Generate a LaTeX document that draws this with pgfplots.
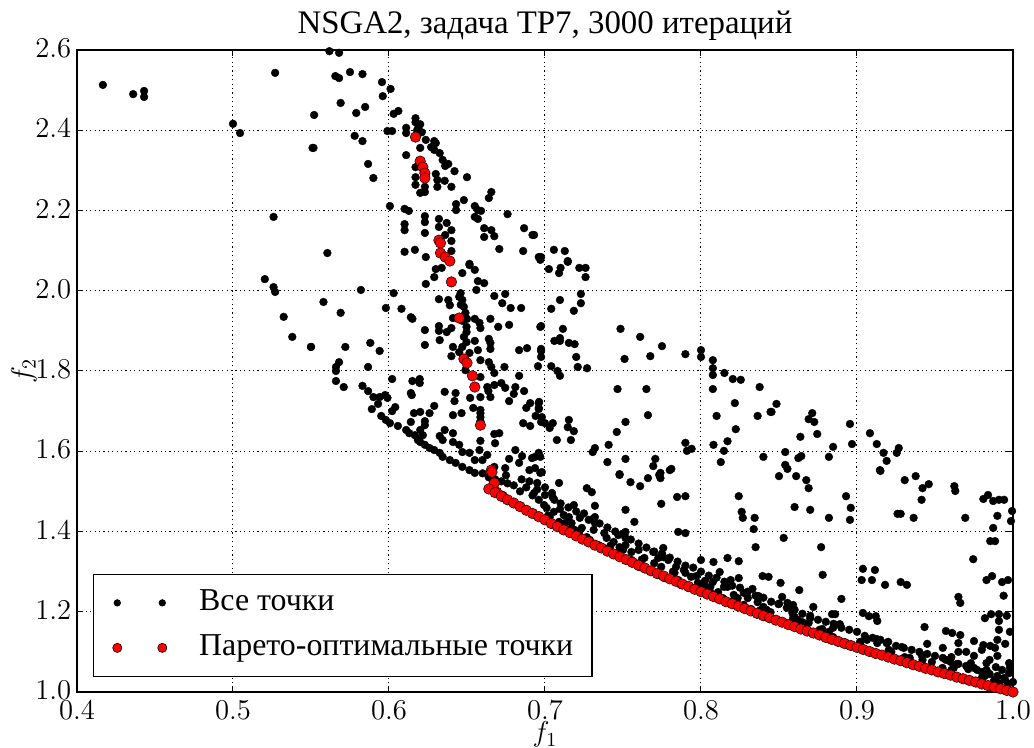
\documentclass[border=0pt]{standalone}
\usepackage{pgfplots}
\pgfplotsset{compat=1.18}
\usepackage{fontspec}
\newfontfamily\cyr{Liberation Serif}
\begin{document}
\begin{tikzpicture}
\path[use as bounding box] (-38.5bp,-28bp) rectangle (478.5bp,346bp);
\begin{axis}[
 scale only axis, width=468bp, height=321bp,
 xmin=0.4, xmax=1.0, ymin=1.0, ymax=2.6,
 xtick={0.4,0.5,0.6,0.7,0.8,0.9,1.0},
 ytick={1.0,1.2,1.4,1.6,1.8,2.0,2.2,2.4,2.6},
 tick pos=both, tick align=inside, major tick length=3bp,
 grid=major, grid style={black, line width=0.5bp, dash pattern=on 0.6bp off 1.6bp},
 axis line style={line width=0.6bp},
 tick style={black, line width=0.5bp},
 tick label style={font=\fontsize{14}{16}\selectfont},
 xticklabel style={inner sep=0pt, yshift=-4.5bp, /pgf/number format/.cd, fixed, fixed zerofill, precision=1},
 yticklabel style={inner sep=0pt, xshift=-2.7bp, yshift=0.8bp, /pgf/number format/.cd, fixed, fixed zerofill, precision=1},
 title={NSGA2, задача TP7, 3000 итераций},
 title style={font=\cyr\fontsize{16.5}{19}\selectfont, at={(0.5,1)}, anchor=base, yshift=2.5bp},
 xlabel={$f_1$}, ylabel={$f_2$},
 label style={font=\fontsize{14}{16}\selectfont},
 xlabel style={at={(axis description cs:0.5,-0.046)}, anchor=north, inner sep=0pt},
 ylabel style={at={(axis description cs:-0.0566,0.5)}, anchor=center},
 legend style={at={(0.0171,0.0234)}, anchor=south west, draw=black, line width=0.6bp, fill=white,
   inner xsep=9.4bp, inner ysep=7bp, font=\cyr\fontsize{16}{19}\selectfont,
   cells={anchor=west}, nodes={inner sep=0pt, text height=11bp, text depth=3.5bp},
   row sep=8bp, /tikz/every odd column/.append style={column sep=16bp}},
]
\addplot[only marks, mark=*, mark size=1.95bp, mark options={draw=black, fill=black, line width=0.2bp},
 legend image code/.code={\fill[black] (0bp,0bp) circle[radius=1.5bp]; \fill[black] (22.5bp,0bp) circle[radius=1.5bp];}]
 table {
x y
0.4166 2.513
0.436 2.490
0.443 2.498
0.443 2.483
0.500 2.416
0.5045 2.393
0.527 2.543
0.552 2.438
0.551 2.356
0.526 2.184
0.5204 2.029
0.526 2.009
0.527 1.997
0.5325 1.935
0.538 1.885
0.550 1.860
0.5618 2.597
0.568 2.593
0.5656 2.535
0.568 2.530
0.575 2.545
0.583 2.540
0.5955 2.520
0.601 2.503
0.596 2.485
0.569 2.468
0.5847 2.458
0.579 2.443
0.603 2.441
0.606 2.448
0.617 2.430
0.617 2.420
0.619 2.410
0.618 2.400
0.621 2.395
0.620 2.415
0.599 2.398
0.602 2.398
0.611 2.406
0.611 2.393
0.578 2.386
0.583 2.373
0.5516 2.356
0.6236 2.376
0.629 2.373
0.630 2.368
0.627 2.358
0.629 2.351
0.620 2.356
0.6325 2.343
0.611 2.338
0.5866 2.316
0.590 2.281
0.617 2.308
0.617 2.283
0.617 2.264
0.620 2.244
0.623 2.246
0.623 2.259
0.6344 2.326
0.636 2.311
0.638 2.316
0.642 2.298
0.630 2.291
0.631 2.276
0.631 2.259
0.6357 2.274
0.640 2.259
0.650 2.283
0.6656 2.246
0.664 2.231
0.648 2.226
0.643 2.216
0.643 2.201
0.655 2.211
0.657 2.201
0.659 2.199
0.655 2.184
0.657 2.179
0.676 2.191
0.6006 2.211
0.610 2.204
0.6127 2.199
0.610 2.166
0.610 2.151
0.623 2.186
0.623 2.171
0.623 2.144
0.632 2.179
0.632 2.159
0.637 2.169
0.640 2.151
0.636 2.139
0.640 2.124
0.640 2.099
0.661 2.156
0.6656 2.151
0.661 2.134
0.6675 2.136
0.6866 2.156
0.692 2.139
0.6707 2.104
0.686 2.099
0.696 2.084
0.610 2.097
0.6166 2.102
0.6236 2.084
0.5605 2.094
0.6516 2.067
0.693 2.139
0.6975 2.084
0.7057 2.102
0.7127 2.099
0.7146 2.074
0.630 2.054
0.6338 2.057
0.6236 2.017
0.629 2.034
0.647 2.044
0.6516 2.064
0.655 2.052
0.657 2.024
0.661 2.019
0.656 2.002
0.6459 1.994
0.647 1.977
0.648 1.960
0.649 1.945
0.6497 1.910
0.6497 1.897
0.6497 1.872
0.647 1.860
0.645 1.847
0.6516 1.845
0.649 1.802
0.645 1.985
0.646 1.965
0.647 1.925
0.648 1.885
0.650 1.930
0.632 1.979
0.638 1.977
0.639 1.964
0.641 1.932
0.640 1.907
0.632 1.912
0.632 1.900
0.637 1.897
0.6325 1.877
0.623 1.902
0.623 1.865
0.641 1.860
0.640 1.837
0.655 1.930
0.658 1.920
0.6586 1.907
0.665 1.930
0.670 1.910
0.677 1.915
0.6675 1.987
0.6745 1.992
0.6726 1.969
0.678 1.957
0.6847 1.957
0.697 1.910
0.655 1.875
0.657 1.852
0.664 1.880
0.665 1.870
0.665 1.855
0.6586 1.827
0.664 1.822
0.6656 1.810
0.674 1.810
0.6586 1.785
0.6675 1.795
0.6834 1.852
0.6885 1.857
0.6834 1.788
0.663 1.760
0.6675 1.765
0.672 1.770
0.6745 1.758
0.681 1.760
0.680 1.743
0.6866 1.750
0.6586 1.735
0.665 1.735
0.6637 1.750
0.677 1.725
0.652 1.733
0.6427 1.745
0.642 1.725
0.6357 1.748
0.629 1.713
0.641 1.690
0.6465 1.695
0.654 1.708
0.6586 1.703
0.6586 1.685
0.6586 1.695
0.6586 1.675
0.6905 1.720
0.6962 1.723
0.688 1.708
0.696 1.708
0.686 1.670
0.6905 1.663
0.698 1.685
0.582 2.002
0.603 1.994
0.598 1.957
0.608 1.955
0.614 1.934
0.615 1.930
0.558 1.972
0.569 1.945
0.550 1.860
0.572 1.860
0.588 1.870
0.594 1.850
0.568 1.822
0.566 1.810
0.566 1.800
0.5866 1.810
0.566 1.775
0.571 1.760
0.583 1.763
0.602 1.780
0.615 1.775
0.6197 1.780
0.6197 1.770
0.614 1.745
0.6146 1.740
0.5866 1.750
0.590 1.735
0.594 1.735
0.5975 1.740
0.599 1.733
0.593 1.718
0.604 1.710
0.602 1.700
0.589 1.705
0.595 1.688
0.598 1.678
0.6006 1.670
0.6057 1.663
0.614 1.673
0.616 1.695
0.620 1.698
0.626 1.695
0.623 1.675
0.623 1.665
0.611 1.653
0.613 1.645
0.6166 1.640
0.6185 1.628
0.620 1.623
0.623 1.616
0.626 1.608
0.629 1.603
0.6325 1.596
0.6344 1.586
0.639 1.578
0.6427 1.571
0.647 1.561
0.6516 1.553
0.655 1.546
0.620 1.653
0.6217 1.640
0.6325 1.638
0.6344 1.628
0.641 1.645
0.641 1.623
0.645 1.616
0.647 1.598
0.6516 1.596
0.658 1.603
0.655 1.578
0.6599 1.578
0.663 1.591
0.668 1.620
0.6707 1.645
0.6675 1.643
0.6586 1.626
0.677 1.581
0.6853 1.588
0.6917 1.583
0.681 1.603
0.6834 1.571
0.690 1.553
0.6936 1.558
0.6745 1.558
0.6675 1.561
0.697 1.586
0.6357 1.653
0.6975 1.855
0.6955 1.812
0.697 2.077
0.7146 2.072
0.7025 2.054
0.709 2.044
0.710 2.057
0.722 2.057
0.726 2.057
0.726 2.034
0.723 1.992
0.723 1.969
0.7096 1.977
0.704 1.955
0.7185 1.950
0.6975 1.912
0.7115 1.905
0.7096 1.882
0.706 1.875
0.7096 1.875
0.7153 1.870
0.719 1.867
0.6975 1.850
0.6975 1.835
0.704 1.812
0.708 1.800
0.7096 1.788
0.720 1.835
0.721 1.810
0.727 1.807
0.7484 1.905
0.751 1.830
0.761 1.885
0.7675 1.837
0.775 1.862
0.790 1.842
0.800 1.852
0.800 1.835
0.8076 1.827
0.8076 1.807
0.8076 1.790
0.815 1.795
0.8204 1.780
0.8255 1.778
0.8376 1.760
0.8076 1.755
0.7465 1.755
0.765 1.755
0.766 1.690
0.7516 1.673
0.746 1.648
0.7408 1.616
0.7306 1.598
0.732 1.608
0.740 1.573
0.7516 1.581
0.7478 1.543
0.7707 1.581
0.7694 1.563
0.774 1.546
0.781 1.556
0.790 1.621
0.791 1.601
0.794 1.606
0.8217 1.720
0.810 1.688
0.8223 1.655
0.817 1.625
0.808 1.616
0.8147 1.601
0.8127 1.573
0.8363 1.688
0.840 1.586
0.8446 1.698
0.696 1.720
0.696 1.705
0.694 1.688
0.6975 1.673
0.700 1.670
0.703 1.658
0.705 1.670
0.7153 1.678
0.7146 1.660
0.7185 1.650
0.7166 1.628
0.7076 1.628
0.696 1.596
0.6936 1.586
0.698 1.548
0.8484 1.718
0.8452 1.698
0.8713 1.695
0.869 1.680
0.8726 1.673
0.8745 1.643
0.8637 1.636
0.854 1.598
0.854 1.566
0.8554 1.556
0.8624 1.583
0.8643 1.588
0.882 1.586
0.8847 1.611
0.8955 1.668
0.8968 1.618
0.9083 1.645
0.9127 1.618
0.917 1.596
0.919 1.576
0.9147 1.553
0.9255 1.596
0.9268 1.608
0.9376 1.538
0.850 1.538
0.861 1.538
0.8675 1.528
0.869 1.508
0.860 1.461
0.870 1.454
0.882 1.434
0.893 1.488
0.896 1.459
0.8955 1.429
0.853 1.384
0.877 1.361
0.878 1.292
0.851 1.272
0.863 1.254
0.852 1.237
0.8497 1.219
0.8554 1.222
0.859 1.217
0.872 1.212
0.890 1.232
0.884 1.194
0.886 1.194
0.8586 1.197
0.859 1.184
0.870 1.184
0.869 1.172
0.889 1.169
0.8847 1.160
0.876 1.155
0.865 1.162
0.915 1.551
0.9306 1.528
0.942 1.508
0.946 1.518
0.9414 1.479
0.926 1.444
0.928 1.444
0.9363 1.434
0.9624 1.513
0.963 1.501
0.9694 1.434
0.981 1.481
0.984 1.491
0.9873 1.476
0.991 1.479
0.9943 1.479
0.990 1.439
0.9994 1.451
0.9987 1.426
0.9873 1.409
0.9854 1.376
0.9885 1.376
0.9745 1.331
0.983 1.279
0.9866 1.289
0.993 1.274
0.9968 1.279
0.965 1.237
0.9662 1.222
0.982 1.184
0.986 1.194
0.991 1.194
0.991 1.177
0.991 1.155
0.9038 1.307
0.9115 1.304
0.903 1.279
0.9096 1.279
0.918 1.267
0.928 1.274
0.932 1.267
0.9038 1.197
0.9076 1.189
0.912 1.189
0.913 1.177
0.9433 1.162
0.957 1.152
0.961 1.147
0.9662 1.142
0.965 1.122
0.975 1.127
0.981 1.117
0.9854 1.115
0.980 1.105
0.9885 1.110
0.9287 1.112
0.9414 1.092
0.9605 1.087
0.957 1.080
0.964 1.070
0.973 1.072
0.9713 1.057
0.977 1.055
0.983 1.072
0.983 1.055
0.989 1.062
0.993 1.055
0.9975 1.072
0.9975 1.047
0.9943 1.035
0.991 1.022
0.988 1.030
0.980 1.035
0.9764 1.022
0.9847 1.017
0.948 1.075
0.9548 1.060
0.9605 1.055
0.942 1.062
0.9064 1.130
0.9127 1.132
0.913 1.122
0.919 1.122
0.9204 1.105
0.9306 1.087
0.9338 1.085
0.902 1.122
0.8936 1.117
0.883 1.130
0.8586 1.202
0.860 1.187
0.853 1.174
0.865 1.174
0.8777 1.157
0.8847 1.137
0.7478 1.541
0.7548 1.523
0.761 1.513
0.766 1.533
0.7732 1.541
0.774 1.533
0.780 1.553
0.7745 1.469
0.7847 1.486
0.790 1.488
0.7516 1.454
0.7573 1.424
0.7854 1.399
0.790 1.396
0.8242 1.488
0.8261 1.449
0.8268 1.434
0.8344 1.434
0.8338 1.406
0.835 1.361
0.8395 1.289
0.8433 1.287
0.833 1.257
0.837 1.239
0.800 1.329
0.808 1.324
0.812 1.299
0.817 1.334
0.8242 1.326
0.8242 1.284
0.819 1.279
0.8147 1.262
0.8076 1.274
0.8025 1.277
0.8274 1.247
0.7268 1.508
0.730 1.498
0.732 1.464
0.732 1.436
0.732 1.421
0.728 1.429
0.7185 1.466
0.7096 1.456
0.712 1.441
0.706 1.479
0.7045 1.496
0.709 1.521
0.695 1.521
0.697 1.546
0.700 1.491
0.7153 1.436
0.7223 1.434
0.717 1.421
0.7236 1.409
0.7312 1.404
0.738 1.396
0.7395 1.384
0.744 1.374
0.747 1.391
0.7516 1.399
0.7516 1.384
0.7516 1.366
0.7478 1.361
0.750 1.354
0.7554 1.349
0.760 1.354
0.7637 1.334
0.7694 1.349
0.7726 1.334
0.7758 1.359
0.7758 1.336
0.770 1.321
0.7745 1.312
0.779 1.329
0.784 1.312
0.789 1.304
0.790 1.297
0.7936 1.287
0.797 1.289
0.783 1.297
0.7854 1.279
0.798 1.272
0.7987 1.254
0.806 1.262
0.811 1.249
0.817 1.262
0.821 1.242
0.8235 1.234
0.830 1.234
0.8363 1.224
0.840 1.212
0.693 1.496
0.696 1.479
0.6994 1.466
0.701 1.459
0.7057 1.449
0.703 1.436
0.709 1.424
0.7127 1.421
0.7153 1.404
0.719 1.404
0.7217 1.391
0.7268 1.386
0.7287 1.379
0.7344 1.366
0.7376 1.359
0.7414 1.354
0.745 1.346
0.7554 1.329
0.760 1.312
0.766 1.304
0.7726 1.292
0.7764 1.284
0.781 1.279
0.787 1.267
0.792 1.259
0.800 1.249
0.8076 1.244
0.814 1.234
0.819 1.224
0.8274 1.217
0.832 1.207
0.838 1.204
0.8446 1.199
0.660 1.545
0.664 1.535
0.668 1.530
0.672 1.525
0.676 1.520
0.680 1.515
0.684 1.500
0.688 1.510
0.692 1.490
0.675 1.540
0.685 1.530
0.690 1.525
0.695 1.505
0.700 1.510
0.705 1.485
0.710 1.470
0.715 1.460
0.720 1.450
0.725 1.445
0.730 1.430
0.735 1.420
0.740 1.410
0.745 1.400
0.750 1.395
0.755 1.380
0.760 1.370
0.765 1.360
0.770 1.350
0.775 1.345
0.780 1.335
0.785 1.325
0.790 1.315
0.795 1.310
0.800 1.300
0.805 1.290
0.810 1.285
0.815 1.275
0.820 1.265
0.825 1.260
0.830 1.250
0.835 1.240
0.840 1.235
0.845 1.225
0.850 1.220
0.855 1.210
0.860 1.205
0.865 1.195
0.870 1.190
0.875 1.180
0.880 1.175
0.885 1.170
0.890 1.160
0.895 1.155
0.900 1.150
0.905 1.140
0.910 1.135
0.915 1.130
0.920 1.125
0.925 1.115
0.930 1.110
0.935 1.105
0.940 1.100
0.945 1.095
0.950 1.090
0.955 1.085
0.960 1.075
0.965 1.070
0.970 1.065
0.975 1.060
0.980 1.050
0.985 1.045
0.990 1.040
0.995 1.030
1.000 1.025
0.702 1.440
0.722 1.400
0.742 1.365
0.762 1.330
0.782 1.300
0.802 1.265
0.822 1.235
0.842 1.205
0.862 1.180
0.882 1.150
0.902 1.125
0.922 1.100
0.942 1.080
0.962 1.060
0.982 1.040
0.997 1.020
0.990 1.090
0.995 1.120
0.998 1.060
0.985 1.080
0.975 1.090
0.970 1.100
0.965 1.100
0.955 1.110
0.945 1.120
0.990 1.130
0.998 1.150
0.996 1.190
0.994 1.240
};
\addlegendentry{Все точки}
\addplot[only marks, mark=*, mark size=2.65bp, mark options={fill=red, draw=black, line width=0.25bp},
 legend image code/.code={\filldraw[fill=red, draw=black, line width=0.3bp] (0bp,0bp) circle[radius=2.3bp]; \filldraw[fill=red, draw=black, line width=0.3bp] (22.5bp,0bp) circle[radius=2.3bp];}]
 table {
x y
0.617 2.383
0.620 2.323
0.6217 2.308
0.623 2.293
0.623 2.281
0.632 2.126
0.633 2.119
0.633 2.094
0.636 2.084
0.639 2.074
0.640 2.022
0.645 1.932
0.648 1.830
0.650 1.820
0.6535 1.788
0.655 1.760
0.6586 1.665
0.6656 1.553
0.666 1.548
0.6675 1.521
0.669 1.498
0.6726 1.488
0.664 1.506
0.668 1.497
0.672 1.488
0.676 1.479
0.680 1.471
0.684 1.462
0.688 1.453
0.692 1.445
0.696 1.437
0.700 1.429
0.704 1.420
0.708 1.412
0.712 1.404
0.716 1.397
0.720 1.389
0.724 1.381
0.728 1.374
0.732 1.366
0.736 1.359
0.740 1.351
0.744 1.344
0.748 1.337
0.752 1.330
0.756 1.323
0.760 1.316
0.764 1.309
0.768 1.302
0.772 1.295
0.776 1.289
0.780 1.282
0.784 1.276
0.788 1.269
0.792 1.263
0.796 1.256
0.800 1.250
0.804 1.244
0.808 1.238
0.812 1.232
0.816 1.225
0.820 1.220
0.824 1.214
0.828 1.208
0.832 1.202
0.836 1.196
0.840 1.190
0.844 1.185
0.848 1.179
0.852 1.174
0.856 1.168
0.860 1.163
0.864 1.157
0.868 1.152
0.872 1.147
0.876 1.142
0.880 1.136
0.884 1.131
0.888 1.126
0.892 1.121
0.896 1.116
0.900 1.111
0.904 1.106
0.908 1.101
0.912 1.096
0.916 1.092
0.920 1.087
0.924 1.082
0.928 1.078
0.932 1.073
0.936 1.068
0.940 1.064
0.944 1.059
0.948 1.055
0.952 1.050
0.956 1.046
0.960 1.042
0.964 1.037
0.968 1.033
0.972 1.029
0.976 1.025
0.980 1.020
0.984 1.016
0.988 1.012
0.992 1.008
0.996 1.004
1.000 1.000
};
\addlegendentry{Парето-оптимальные точки}
\end{axis}
\end{tikzpicture}
\end{document}
